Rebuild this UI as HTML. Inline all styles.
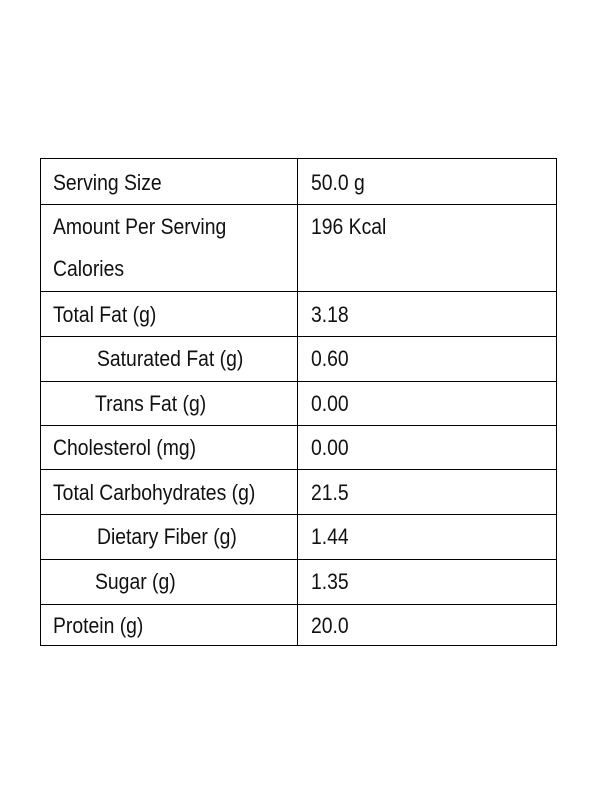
<!DOCTYPE html>
<html><head><meta charset="utf-8"><style>
body{margin:0;width:600px;height:800px;background:#fff;position:relative;overflow:hidden;font-family:"Liberation Sans",sans-serif;}
.t{position:absolute;left:40px;top:158px;width:517px;height:488px;border:1.5px solid #000;box-sizing:border-box;}
.h{position:absolute;left:0;width:100%;height:0;border-top:1.5px solid #000;}
.v{position:absolute;top:0;left:256px;height:100%;border-left:1.5px solid #000;}
.c{position:absolute;font-size:22px;color:#111;transform:scaleX(0.88);transform-origin:left top;white-space:nowrap;line-height:26px;}
</style></head><body>
<div class="t">
<div class="v"></div>
<div class="h" style="top:45px"></div>
<div class="h" style="top:132px"></div>
<div class="h" style="top:177px"></div>
<div class="h" style="top:222px"></div>
<div class="h" style="top:266px"></div>
<div class="h" style="top:310px"></div>
<div class="h" style="top:355px"></div>
<div class="h" style="top:400px"></div>
<div class="h" style="top:445px"></div>

<div class="c" style="left:12px;top:11px">Serving Size</div>
<div class="c" style="left:270px;top:11px">50.0 g</div>
<div class="c" style="left:12px;top:55px">Amount Per Serving</div>
<div class="c" style="left:12px;top:97px">Calories</div>
<div class="c" style="left:270px;top:55px">196 Kcal</div>
<div class="c" style="left:12px;top:143px">Total Fat (g)</div>
<div class="c" style="left:270px;top:143px">3.18</div>
<div class="c" style="left:56px;top:187px">Saturated Fat (g)</div>
<div class="c" style="left:270px;top:187px">0.60</div>
<div class="c" style="left:54px;top:232px">Trans Fat (g)</div>
<div class="c" style="left:270px;top:232px">0.00</div>
<div class="c" style="left:12px;top:276px">Cholesterol (mg)</div>
<div class="c" style="left:270px;top:276px">0.00</div>
<div class="c" style="left:12px;top:321px">Total Carbohydrates (g)</div>
<div class="c" style="left:270px;top:321px">21.5</div>
<div class="c" style="left:56px;top:365px">Dietary Fiber (g)</div>
<div class="c" style="left:270px;top:365px">1.44</div>
<div class="c" style="left:54px;top:410px">Sugar (g)</div>
<div class="c" style="left:270px;top:410px">1.35</div>
<div class="c" style="left:12px;top:454px">Protein (g)</div>
<div class="c" style="left:270px;top:454px">20.0</div>
</div>
</body></html>
